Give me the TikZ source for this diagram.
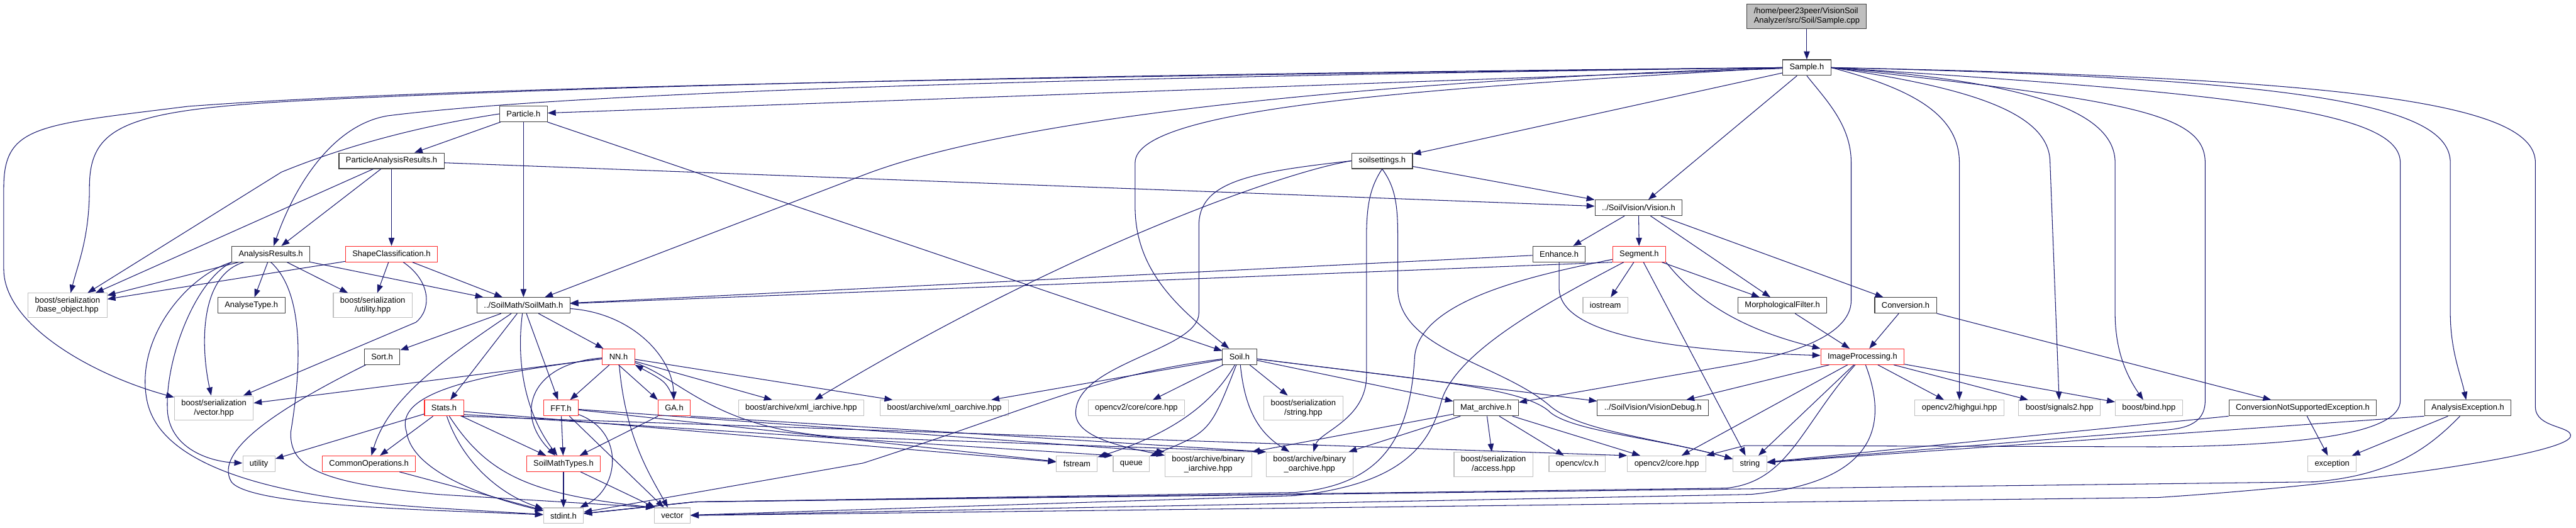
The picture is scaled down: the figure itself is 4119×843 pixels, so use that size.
\documentclass[tikz,border=0pt]{standalone}
\usepackage{fontspec}
\setmainfont{Liberation Sans}
\usepackage{xcolor}
\usepackage{tikz}
\usetikzlibrary{arrows.meta}
\definecolor{edgeblue}{RGB}{25,25,112}
\definecolor{extgray}{RGB}{191,191,191}
\definecolor{truncred}{RGB}{255,40,40}
\tikzset{
  filebox/.style={draw=black!75, line width=0.6pt, fill=white, inner xsep=0.22cm, inner ysep=0.12cm, minimum height=0.5cm, align=center},
  redbox/.style={filebox, draw=truncred},
  extbox/.style={filebox, draw=extgray},
  rootbox/.style={filebox, fill=extgray, align=left},
  incl/.style={-{Triangle[length=0.26cm,width=0.19cm]}, edgeblue, line width=0.6pt},
}

\begin{document}
\begin{tikzpicture}[x=0.02cm, y=-0.02cm, font=\fontsize{7.4}{8.4}\selectfont]
  \useasboundingbox (0,0) rectangle (4119,843);

  \node[rootbox] (samplecpp) at (2889,26) {/home/peer23peer/VisionSoil\\Analyzer/src/Soil/Sample.cpp};
  \node[filebox] (sampleh) at (2889,108) {Sample.h};
  \node[filebox] (particleh) at (837,182) {Particle.h};
  \node[filebox] (parh) at (626,257) {ParticleAnalysisResults.h};
  \node[filebox] (soilsettings) at (2210,257) {soilsettings.h};
  \node[filebox] (visionh) at (2620,332) {../SoilVision/Vision.h};
  \node[filebox] (analysisres) at (433,406) {AnalysisResults.h};
  \node[redbox] (shapecls) at (626,406) {ShapeClassification.h};
  \node[filebox] (enhance) at (2493,406) {Enhance.h};
  \node[redbox] (segment) at (2621,406) {Segment.h};
  \node[extbox] (baseobj) at (108,488) {boost/serialization\\/base\_object.hpp};
  \node[filebox] (analysetype) at (402,488) {AnalyseType.h};
  \node[extbox] (utilhpp) at (596,488) {boost/serialization\\/utility.hpp};
  \node[filebox] (soilmath) at (837,488) {../SoilMath/SoilMath.h};
  \node[extbox] (iostream) at (2567,488) {iostream};
  \node[filebox] (morph) at (2850,488) {MorphologicalFilter.h};
  \node[filebox] (conversion) at (3047,488) {Conversion.h};
  \node[filebox] (sorth) at (611,570) {Sort.h};
  \node[redbox] (nnh) at (989,570) {NN.h};
  \node[filebox] (soilh) at (1982,570) {Soil.h};
  \node[redbox] (imgproc) at (2978,570) {ImageProcessing.h};
  \node[extbox] (vechpp) at (342,652) {boost/serialization\\/vector.hpp};
  \node[redbox] (stats) at (710,652) {Stats.h};
  \node[redbox] (fft) at (897,652) {FFT.h};
  \node[redbox] (ga) at (1078,652) {GA.h};
  \node[extbox] (xmli) at (1281,652) {boost/archive/xml\_iarchive.hpp};
  \node[extbox] (xmlo) at (1510,652) {boost/archive/xml\_oarchive.hpp};
  \node[extbox] (cvcorecore) at (1817,652) {opencv2/core/core.hpp};
  \node[extbox] (strhpp) at (2084,652) {boost/serialization\\/string.hpp};
  \node[filebox] (matarch) at (2376,652) {Mat\_archive.h};
  \node[filebox] (visdebug) at (2643,652) {../SoilVision/VisionDebug.h};
  \node[extbox] (highgui) at (3133,652) {opencv2/highgui.hpp};
  \node[extbox] (signals) at (3293,652) {boost/signals2.hpp};
  \node[extbox] (bindhpp) at (3436,652) {boost/bind.hpp};
  \node[filebox] (convexc) at (3682,652) {ConversionNotSupportedException.h};
  \node[filebox] (anaexc) at (3946,652) {AnalysisException.h};
  \node[extbox] (utility) at (414,741) {utility};
  \node[redbox] (commonops) at (590,741) {CommonOperations.h};
  \node[redbox] (smtypes) at (901,741) {SoilMathTypes.h};
  \node[extbox] (fstream) at (1722,741) {fstream};
  \node[extbox] (queue) at (1809,741) {queue};
  \node[extbox] (bini) at (1932,742) {boost/archive/binary\\\_iarchive.hpp};
  \node[extbox] (bino) at (2094,742) {boost/archive/binary\\\_oarchive.hpp};
  \node[extbox] (access) at (2388,742) {boost/serialization\\/access.hpp};
  \node[extbox] (cvh) at (2522,741) {opencv/cv.h};
  \node[extbox] (cv2core) at (2665,741) {opencv2/core.hpp};
  \node[extbox] (string) at (2798,741) {string};
  \node[extbox] (exception) at (3729,741) {exception};
  \node[extbox] (stdint) at (901,824) {stdint.h};
  \node[extbox] (vector) at (1075,824) {vector};

  \draw[incl] (samplecpp) -- (sampleh);
  \draw[incl] (sampleh) -- (particleh);
  \draw[incl] (sampleh) -- (soilsettings);
  \draw[incl] (sampleh) -- (visionh);
  \draw[incl] (sampleh.west) .. controls (2300,140) and (1815,170) .. (1815,260) -- (1815,330) .. controls (1815,430) and (1880,490) .. (soilh);
  \draw[incl] (sampleh.west) .. controls (1600,125) and (900,150) .. (620,185) .. controls (530,200) and (470,300) .. (analysisres);
  \draw[incl] (sampleh.west) .. controls (1600,120) and (900,140) .. (500,160) .. controls (200,175) and (143,200) .. (143,300) .. controls (143,380) and (125,420) .. (baseobj);
  \draw[incl] (sampleh.west) .. controls (1500,125) and (700,140) .. (300,170) .. controls (60,200) and (6,200) .. (6,300) -- (6,430) .. controls (6,520) and (150,600) .. (vechpp);
  \draw[incl] (sampleh.west) .. controls (2300,125) and (1650,176) .. (1380,280) -- (soilmath);
  \draw[incl] (sampleh.south) .. controls (2920,160) and (2960,200) .. (2960,260) -- (2960,480) .. controls (2960,540) and (2850,570) .. (2760,585) -- (matarch);
  \draw[incl] (sampleh.east) .. controls (3050,140) and (3133,180) .. (3133,260) -- (highgui);
  \draw[incl] (sampleh.east) .. controls (3150,140) and (3278,180) .. (3278,260) -- (signals);
  \draw[incl] (sampleh.east) .. controls (3250,130) and (3382,180) .. (3382,260) -- (3382,500) .. controls (3382,560) and (3400,600) .. (bindhpp);
  \draw[incl] (sampleh.east) .. controls (3400,160) and (3526,180) .. (3526,260) -- (3526,640) .. controls (3526,680) and (3490,686) .. (3450,688) -- (string);
  \draw[incl] (sampleh.east) .. controls (3600,150) and (3838,180) .. (3838,260) -- (3838,640) .. controls (3838,690) and (3700,712) .. (3450,714) -- (2790,712) -- (cv2core.north east);
  \draw[incl] (sampleh.east) .. controls (3700,125) and (3918,170) .. (3918,260) -- (3918,500) .. controls (3918,560) and (3935,600) .. (anaexc);
  \draw[incl] (sampleh.east) .. controls (3800,125) and (4054,170) .. (4054,260) -- (4054,650) .. controls (4054,685) and (4115,680) .. (4110,698) .. controls (4100,725) and (3800,772) .. (3450,795) -- (vector);

  \draw[incl] (particleh.west) .. controls (680,200) and (560,230) .. (450,275) -- (baseobj);
  \draw[incl] (particleh) -- (parh);
  \draw[incl] (particleh) -- (soilmath);
  \draw[incl] (particleh) -- (soilh);

  \draw[incl] (parh) -- (baseobj);
  \draw[incl] (parh) -- (analysisres);
  \draw[incl] (parh) -- (shapecls);
  \draw[incl] (parh) -- (visionh);

  \draw[incl] (soilsettings) -- (visionh);
  \draw[incl] (soilsettings.west) .. controls (2050,275) and (1700,400) .. (xmli);
  \draw[incl] (soilsettings.west) .. controls (2000,275) and (1917,290) .. (1917,360) -- (1917,500) .. controls (1917,560) and (1720,580) .. (1720,660) .. controls (1720,700) and (1800,715) .. (bini);
  \draw[incl] (soilsettings.south) .. controls (2190,300) and (2185,330) .. (2185,380) -- (2185,600) .. controls (2185,670) and (2110,690) .. (bino);
  \draw[incl] (soilsettings.south) .. controls (2232,300) and (2235,330) .. (2235,380) -- (2235,460) .. controls (2235,560) and (2400,580) .. (2480,650) .. controls (2530,690) and (2650,700) .. (string);

  \draw[incl] (visionh) -- (enhance);
  \draw[incl] (visionh) -- (segment);
  \draw[incl] (visionh) -- (morph);
  \draw[incl] (visionh) -- (conversion);

  \draw[incl] (enhance) -- (soilmath);
  \draw[incl] (enhance.south) -- (2493,460) .. controls (2493,530) and (2650,560) .. (imgproc);

  \draw[incl] (segment.south west) -- (soilmath);
  \draw[incl] (segment) -- (iostream);
  \draw[incl] (segment) -- (morph);
  \draw[incl] (segment.south east) .. controls (2720,490) and (2800,530) .. (imgproc.north west);
  \draw[incl] (segment) -- (string);
  \draw[incl] (segment) .. controls (2450,440) and (2270,480) .. (2262,570) .. controls (2255,700) and (2210,775) .. (2070,787) -- (1110,802) -- (stdint);
  \draw[incl] (segment) .. controls (2480,480) and (2330,560) .. (2305,640) .. controls (2285,720) and (2230,775) .. (2070,792) -- (vector);

  \draw[incl] (soilh) -- (xmlo);
  \draw[incl] (soilh) -- (cvcorecore);
  \draw[incl] (soilh) -- (strhpp);
  \draw[incl] (soilh) -- (matarch);
  \draw[incl] (soilh) -- (visdebug);
  \draw[incl] (soilh) .. controls (1750,600) and (1660,650) .. (1380,740) -- (stdint);
  \draw[incl] (soilh) .. controls (1930,660) and (1850,700) .. (fstream);
  \draw[incl] (soilh) .. controls (1935,690) .. (queue);
  \draw[incl] (soilh) .. controls (1990,650) and (2010,690) .. (bino);
  \draw[incl] (soilh) .. controls (2300,610) and (2440,620) .. (2480,660) .. controls (2520,690) and (2650,700) .. (string);

  \draw[incl] (matarch) -- (bini.north east);
  \draw[incl] (matarch) -- (bino);
  \draw[incl] (matarch) -- (access);
  \draw[incl] (matarch) -- (cvh);
  \draw[incl] (matarch) -- (cv2core);

  \draw[incl] (soilmath) -- (sorth);
  \draw[incl] (soilmath) .. controls (700,580) and (620,640) .. (commonops);
  \draw[incl] (soilmath) -- (stats);
  \draw[incl] (soilmath) .. controls (825,580) and (840,660) .. (smtypes);
  \draw[incl] (soilmath) -- (fft);
  \draw[incl] (soilmath) -- (nnh);
  \draw[incl] (soilmath) .. controls (1010,500) and (1075,570) .. (ga);

  \draw[incl] (nnh) -- (vechpp);
  \draw[incl] (nnh) .. controls (750,600) and (630,630) .. (650,690) .. controls (660,760) and (800,800) .. (stdint);
  \draw[incl] (nnh) .. controls (850,580) and (820,660) .. (smtypes);
  \draw[incl] (nnh) -- (fft);
  \draw[incl] (nnh.south) -- (ga.north west);
  \draw[incl] (ga.north) .. controls (1065,610) .. (nnh.south east);
  \draw[incl] (nnh) .. controls (1000,700) and (1040,760) .. (vector);
  \draw[incl] (nnh) -- (xmli);
  \draw[incl] (nnh) -- (xmlo);
  \draw[incl] (nnh) .. controls (1100,610) and (1150,700) .. (1400,700) -- (bino.north west);

  \draw[incl] (ga) -- (smtypes);
  \draw[incl] (ga.south east) -- (bino.north west);

  \draw[incl] (fft) -- (smtypes);
  \draw[incl] (fft) .. controls (1000,690) and (990,780) .. (stdint);
  \draw[incl] (fft) -- (vector);
  \draw[incl] (fft) -- (fstream);
  \draw[incl] (fft) -- (bini.north west);

  \draw[incl] (stats) -- (utility);
  \draw[incl] (stats) -- (commonops);
  \draw[incl] (stats) -- (smtypes);
  \draw[incl] (stats) .. controls (740,740) and (800,790) .. (stdint);
  \draw[incl] (stats) .. controls (780,760) and (850,790) .. (vector.north west);
  \draw[incl] (stats.-10) -- (fstream);
  \draw[incl] (stats.-18) -- (queue.north west);
  \draw[incl] (stats.-26) -- (cv2core.north west);

  \draw[incl] (smtypes) -- (stdint);
  \draw[incl] (smtypes) -- (vector);
  \draw[incl] (commonops) -- (stdint);
  \draw[incl] (sorth) .. controls (450,650) and (340,720) .. (370,770) .. controls (400,810) and (700,815) .. (stdint);

  \draw[incl] (analysisres) -- (baseobj);
  \draw[incl] (analysisres) -- (analysetype);
  \draw[incl] (analysisres) -- (utilhpp);
  \draw[incl] (analysisres) -- (soilmath);
  \draw[incl] (analysisres) .. controls (320,440) and (320,550) .. (vechpp);
  \draw[incl] (analysisres.south west) .. controls (310,450) and (262,580) .. (268,660) .. controls (275,720) and (340,738) .. (utility);
  \draw[incl] (analysisres.south west) .. controls (300,440) and (215,540) .. (235,640) .. controls (255,740) and (420,795) .. (700,812) -- (stdint);
  \draw[incl] (analysisres.south) .. controls (490,470) and (480,600) .. (465,690) .. controls (462,750) and (520,772) .. (700,790) -- (vector.north west);

  \draw[incl] (shapecls) -- (baseobj);
  \draw[incl] (shapecls) -- (utilhpp);
  \draw[incl] (shapecls) .. controls (690,450) and (690,495) .. (665,515) -- (vechpp);
  \draw[incl] (shapecls) -- (soilmath);

  \draw[incl] (conversion) -- (imgproc);
  \draw[incl] (conversion) -- (convexc);
  \draw[incl] (morph) -- (imgproc);

  \draw[incl] (imgproc) -- (visdebug);
  \draw[incl] (imgproc) -- (cv2core);
  \draw[incl] (imgproc) -- (string);
  \draw[incl] (imgproc) -- (highgui);
  \draw[incl] (imgproc) -- (signals);
  \draw[incl] (imgproc) -- (bindhpp);
  \draw[incl] (imgproc) .. controls (2880,680) and (2860,770) .. (2760,780) -- (1110,802) -- (stdint);
  \draw[incl] (imgproc) .. controls (3020,680) and (3000,770) .. (2800,790) -- (vector);

  \draw[incl] (anaexc.south west) -- (string);
  \draw[incl] (anaexc) -- (exception);
  \draw[incl] (anaexc) .. controls (3880,720) and (3820,760) .. (3700,770) -- (1110,802) -- (stdint);
  \draw[incl] (convexc.south west) -- (string);
  \draw[incl] (convexc) -- (exception);
\end{tikzpicture}
\end{document}
